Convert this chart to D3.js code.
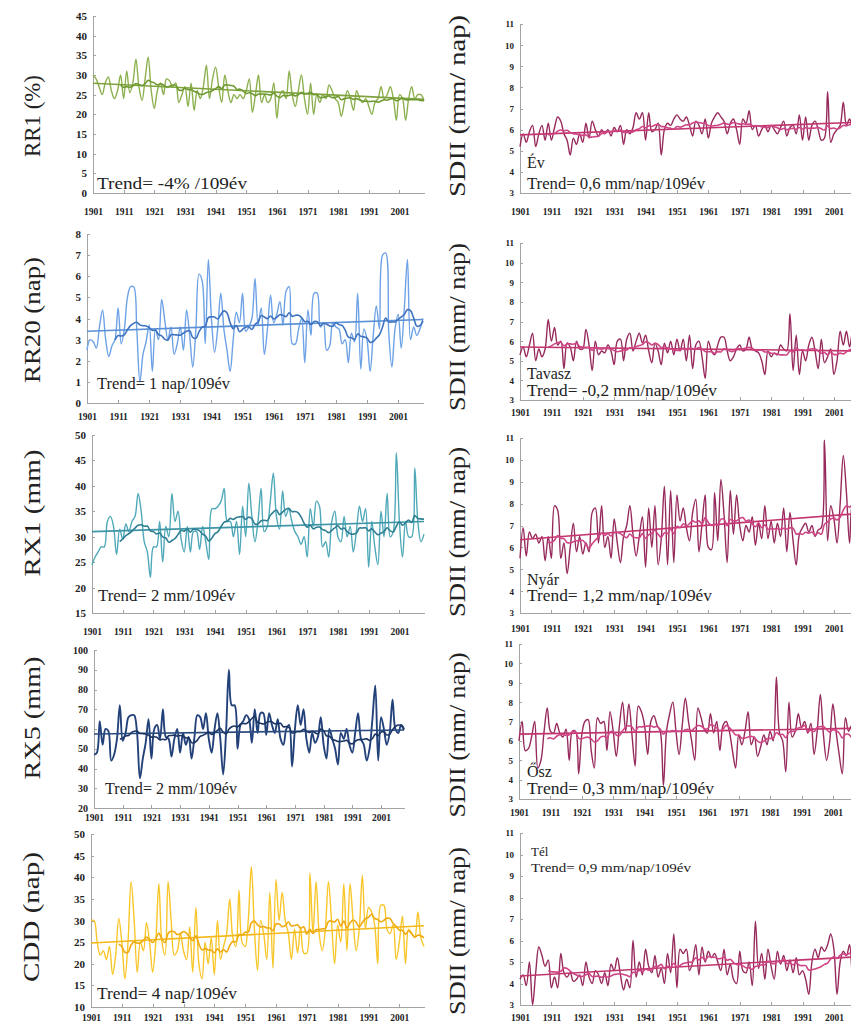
<!doctype html>
<html>
<head>
<meta charset="utf-8">
<script src="https://d3js.org/d3.v7.min.js"></script>
<style>
    body { margin: 0; background: #fff; }
    svg { display: block; }
    svg text { font-family: "Liberation Serif", "DejaVu Serif", "Times New Roman", serif; }
    .axis path, .axis line { stroke: #a3a3a3; stroke-width: 1; fill: none; shape-rendering: crispEdges; }
    .axis text { font-weight: bold; fill: #222; }
    .raw, .smooth, .trend { fill: none; }
</style>
</head>
<body>
<svg width="851" height="1027" font-family="Liberation Serif, serif"></svg>
<script>

// years on the x axis, and the decade labels
var years = d3.range(1901, 2010);
var decades = [1901, 1911, 1921, 1931, 1941, 1951, 1961, 1971, 1981, 1991, 2001];

// yearly values 1901..2009
var rr1 = [30,29,27,25,28,29.5,26,24,26,30, 24,31,25.5,28,34,27,23.5,29,34.5,26,
    21.5,26,28,25,29,28.5,27,28,23,25, 27,22,28,21,26,24,27,32.5,24,29,
    32,27,23,30,26,23,25,24,25,24, 26,29,20.5,25,30,23,25,23,24,28,
    19,25,26,24,31,25,22,26,30,24, 20,28,20,25,23,25,24,27.5,26,24,
    23,19.5,23,26,24,21,26,24,23,24, 22,20,23,24,27,24,25,27,24,18.5,
    25,24,18.5,24,27,24,25,25,23.5];

var rr20 = [2.5,3.0,2.9,2.6,3.6,4.4,3.0,2.2,2.7,3.0, 4.5,2.8,3.5,5.0,5.5,5.5,3.5,1.0,2.3,2.9,
    3.7,1.5,3.5,3.0,4.9,3.9,3.0,3.6,2.3,2.8, 3.6,2.5,4.4,3.2,1.7,3.5,6.1,5.8,2.8,6.8,
    4.0,2.4,3.5,5.2,3.5,2.5,1.5,3.0,4.3,3.8, 5.2,3.4,3.6,4.0,5.9,3.7,4.5,2.3,3.5,5.1,
    3.8,4.2,4.8,3.7,5.3,5.5,2.8,2.8,3.5,4.0, 1.9,4.4,3.2,5.2,5.2,3.6,3.8,2.5,2.7,3.8,
    3.6,3.5,2.8,3.0,1.9,3.3,2.9,5.2,1.6,3.5, 3.0,1.5,3.2,4.6,3.5,7.0,7.1,3.3,1.7,3.5,
    4.2,2.6,4.5,6.8,3.0,3.6,3.2,3.5,4.0];

var rx1 = [24.5,26,27,28,28,33,34,32,26.5,31.5, 29.5,32.5,31,33,34,38.5,35,29,27,22,
    28,28,33,25,32,30,38.5,33,35,29.5, 27,32,27,31,31,27.5,32,29,25.5,35.5,
    35.5,36,37,39.5,33,33,30,33,26.5,36, 30,40.5,34,29,33,39.5,31,32,37,42.5,
    34,31.5,39,34,35.5,33,31,30,28.5,30, 26,35.5,32,37,36,28,29,26,33,35,
    30,29,34,30,32,27,31,36,33,35.5, 24,33,28,24.5,35,30,38.5,30,31,46.5,
    33,26,33,30,30,43.5,33,29,30.5];

var rx5 = [47,48,64,52,60,59,44,47,55,72, 54,58,66,67,67,58,35,45,53,65,
    45,60,62,55,70,56,55,46,55,60, 48,58,52,56,45,56,67,66,60,68,
    55,48,60,68,55,37,58,90,72,72, 50,62,64,67,65,53,70,58,68,68,
    57,68,62,58,65,55,52,60,62,41, 60,72,62,70,55,48,58,53,56,66,
    52,45,60,55,50,42,58,55,60,52, 48,58,68,55,52,44,50,65,82,44,
    66,60,52,58,75,60,58,62,60];

var cdd = [30,30,25,22,23,21,24,17.5,22,30.5, 25,16.5,25,39,30,18,25,23,29.5,25,
    18,25,38.5,25,22,39,30,22,23,27, 23,21,28.5,18,33,20,16.5,25,20,26,
    17.5,30,21,24,27,35,26,24,37,25, 24,30,42.5,28,18.5,30,27,21,36.5,19,
    39.5,30,36.5,30,27,21,28,22.5,28.5,22.5, 22.5,41,27,39,27,23,28,39,30,20,
    29,25,38.5,23,38.5,30,23,28,40.5,28, 33,32,29,20,33.5,33.5,28,27,29,21,
    25,31,20,28,27,26,32,26,24];

var sdiiEv = [5.2,5.8,5.4,5.9,6.2,5.2,5.8,6.2,5.5,6.3, 5.5,6.1,6.6,6.4,5.8,5.5,4.8,5.6,5.3,5.8,
    5.4,6.3,5.6,6.4,6.0,5.7,6.0,5.8,6.0,5.7, 6.1,5.9,6.2,5.3,6.0,5.8,6.1,6.8,6.5,6.8,
    5.5,6.8,5.9,6.0,6.3,4.8,6.0,6.3,6.2,6.5, 6.7,6.5,6.4,6.6,6.2,5.7,6.4,6.2,5.8,6.5,
    5.6,6.3,6.6,6.8,6.6,6.4,5.8,6.3,6.5,6.0, 5.3,6.5,6.3,6.9,6.0,6.2,5.7,6.0,6.2,5.9,
    6.2,6.0,5.8,6.1,6.4,5.7,6.1,6.2,5.8,6.7, 5.5,6.6,5.5,6.2,6.4,6.0,5.5,5.6,7.8,5.4,
    5.8,6.0,6.2,7.3,6.2,6.5,6.1,6.4,6.3];

var sdiiTavasz = [5.3,5.7,5.2,5.8,6.4,5.0,5.6,5.2,5.6,7.1, 6.0,6.7,5.8,6.0,4.6,5.9,5.7,5.0,6.0,5.6,
    5.6,6.6,5.8,4.5,6.0,5.3,5.5,5.4,5.8,5.5, 4.8,6.0,6.1,5.0,6.1,6.4,5.5,6.0,6.4,5.9,
    6.3,5.5,4.9,5.9,5.5,4.8,5.9,5.4,6.0,5.3, 6.1,5.5,6.1,5.0,6.3,4.6,5.8,6.0,5.2,4.1,
    6.0,5.5,5.3,5.8,6.2,6.2,5.5,5.0,5.2,5.6, 5.8,5.5,5.6,6.2,5.6,5.5,5.4,5.0,4.3,5.5,
    5.2,5.4,5.3,5.8,5.6,5.5,7.4,4.5,6.3,4.3, 5.5,5.0,5.8,6.2,5.5,4.6,6.1,4.9,5.2,5.6,
    4.3,5.0,6.5,5.8,6.5,5.7,6.5,5.5,5.6];

var sdiiNyar = [5.5,6.9,5.6,6.7,6.4,6.6,6.2,6.5,5.4,6.5, 5.5,7.9,7.7,5.5,6.2,4.8,6.0,7.1,5.8,6.5,
    5.7,6.2,5.8,7.6,7.8,6.2,7.9,6.0,6.5,5.5, 7.3,6.2,5.3,6.5,7.0,7.9,6.6,5.6,6.5,7.4,
    5.1,7.8,6.0,7.9,5.2,6.4,8.8,5.2,8.6,5.3, 8.4,7.2,7.8,6.9,6.3,7.6,8.2,5.8,7.1,8.4,
    6.0,5.9,8.5,6.3,9.1,7.5,5.3,8.6,6.6,8.4, 7.0,6.3,7.0,6.7,7.4,6.1,7.1,6.4,7.9,6.4,
    7.2,6.2,7.1,6.5,7.8,5.8,7.6,6.3,5.2,6.6, 6.9,7.1,6.7,7.0,6.5,6.8,6.9,10.9,6.3,7.9,
    7.3,6.2,8.0,10.2,8.5,6.2,8.0,7.9,7.5];

var sdiiOsz = [6.0,7.0,5.5,5.6,6.2,7.0,4.6,5.0,6.5,7.7, 6.5,6.4,6.9,6.4,6.2,6.6,5.0,6.5,6.5,4.3,
    6.3,7.0,7.1,5.5,4.6,7.2,6.9,7.0,5.5,7.5, 6.5,5.2,6.8,8.0,6.5,7.9,6.3,4.7,7.8,7.5,
    6.8,5.3,7.0,7.3,6.8,6.5,3.7,6.5,7.4,8.0, 6.5,5.3,6.8,8.2,7.0,6.0,5.0,7.7,7.2,6.6,
    6.4,7.4,6.4,7.0,5.5,6.8,7.0,6.5,5.5,4.6, 6.3,5.8,6.5,7.5,5.8,6.2,5.2,5.7,6.3,5.8,
    6.5,6.0,9.3,6.4,6.0,4.4,8.0,6.2,6.5,7.4, 6.7,7.0,6.4,6.9,5.3,6.5,8.4,6.3,5.0,6.0,
    7.9,6.5,5.3,4.3,7.2,6.5,6.8,6.2,6.6];

var sdiiTel = [4.2,4.4,3.9,5.0,3.0,4.5,5.7,5.3,4.8,5.1, 3.8,4.3,3.8,5.4,4.5,4.3,4.5,4.1,4.2,4.4,
    3.9,5.0,4.3,4.0,4.6,4.4,4.0,4.5,3.9,4.9, 4.6,5.2,4.4,3.7,4.2,3.8,6.0,4.3,5.0,4.4,
    5.6,4.8,4.5,5.3,4.3,4.7,4.0,5.4,4.5,6.3, 3.8,5.6,5.4,5.6,4.6,5.0,5.8,4.4,5.7,5.0,
    5.5,5.2,5.4,5.0,4.6,5.6,4.4,4.9,4.2,4.0, 5.5,4.6,4.5,5.0,3.9,6.9,4.7,5.4,4.2,5.6,
    4.8,4.2,5.5,4.9,5.3,4.6,5.1,4.5,5.2,4.4, 4.6,4.2,3.5,5.0,5.6,5.2,5.7,5.5,5.8,6.3,
    5.6,3.5,5.0,5.5,5.3,5.8,4.3,5.2,5.1];

// linear trend, value at 1901 and at 2009
var trendRR1 = [27.9, 23.8];
var trendRR20 = [3.4, 3.95];
var trendRX1 = [31, 33];
var trendRX5 = [57.5, 59.5];
var trendCDD = [24.8, 28.8];
var trendEv = [5.75, 6.35];
var trendTavasz = [5.7, 5.5];
var trendNyar = [6.35, 7.55];
var trendOsz = [6.35, 6.65];
var trendTel = [4.35, 5.25];

// raw, moving average, trend
var green = ["#8db04f", "#6f9a32", "#7ea33e"],
    lblue = ["#6ea2e6", "#3f73bf", "#5a8fd6"],
    teal = ["#4fa9b9", "#2e7f92", "#3f95a8"],
    navy = ["#24427a", "#1b3563", "#2b4c80"],
    gold = ["#f9c62a", "#eeaa10", "#f3b81a"],
    pink = ["#962a5c", "#cf4585", "#c3356f"];

var panels = [
    {data: rr1, trend: trendRR1, dom: [0, 45], step: 5, x0: 93, x1: 424, yT: 16, yB: 193, labY: 212,
     col: green, lw: 1.4, ylab: "RR1 (%)", lx: 32, ly: 116, llen: 82, tfs: 11,
     texts: [{t: "Trend= -4% /109év", x: 97, y: 189, fs: 17, len: 150}]},
    {data: sdiiEv, trend: trendEv, dom: [3, 11], step: 1, x0: 520, x1: 859, yT: 24, yB: 193, labY: 212,
     col: pink, lw: 1.4, ylab: "SDII (mm/ nap)", lx: 457, ly: 106, llen: 182, tfs: 9,
     texts: [{t: "Év", x: 527, y: 168, fs: 16}, {t: "Trend= 0,6 mm/nap/109év", x: 527, y: 189, fs: 16, len: 178}]},
    {data: rr20, trend: trendRR20, dom: [0, 8], step: 1, x0: 87, x1: 423, yT: 234, yB: 403, labY: 417,
     col: lblue, lw: 1.4, ylab: "RR20 (nap)", lx: 32, ly: 320, llen: 126, tfs: 11,
     texts: [{t: "Trend= 1 nap/109év", x: 97, y: 389, fs: 17, len: 133}]},
    {data: sdiiTavasz, trend: trendTavasz, dom: [3, 11], step: 1, x0: 520, x1: 859, yT: 243, yB: 400, labY: 413,
     col: pink, lw: 1.4, ylab: "SDII (mm/ nap)", lx: 457, ly: 327, llen: 168, tfs: 9,
     texts: [{t: "Tavasz", x: 527, y: 379, fs: 16}, {t: "Trend= -0,2 mm/nap/109év", x: 527, y: 396, fs: 16, len: 190}]},
    {data: rx1, trend: trendRX1, dom: [15, 50], step: 5, x0: 92, x1: 424, yT: 435, yB: 613, labY: 632,
     col: teal, lw: 1.4, ylab: "RX1 (mm)", lx: 32, ly: 513, llen: 127, tfs: 11,
     texts: [{t: "Trend= 2 mm/109év", x: 98, y: 601, fs: 17, len: 137}]},
    {data: sdiiNyar, trend: trendNyar, dom: [3, 11], step: 1, x0: 520, x1: 859, yT: 438, yB: 613, labY: 629,
     col: pink, lw: 1.4, ylab: "SDII (mm/ nap)", lx: 457, ly: 532, llen: 170, tfs: 9,
     texts: [{t: "Nyár", x: 527, y: 585, fs: 16}, {t: "Trend= 1,2 mm/nap/109év", x: 527, y: 601, fs: 16, len: 185}]},
    {data: rx5, trend: trendRX5, dom: [20, 100], step: 10, x0: 94, x1: 404, yT: 650, yB: 808, labY: 818,
     col: navy, lw: 1.9, ylab: "RX5 (mm)", lx: 32, ly: 718, llen: 123, tfs: 10,
     texts: [{t: "Trend= 2 mm/109év", x: 105, y: 794, fs: 17, len: 132}]},
    {data: sdiiOsz, trend: trendOsz, dom: [3, 11], step: 1, x0: 519, x1: 858, yT: 644, yB: 799, labY: 813,
     col: pink, lw: 1.4, ylab: "SDII (mm/ nap)", lx: 457, ly: 735, llen: 165, tfs: 9,
     texts: [{t: "Ősz", x: 527, y: 777, fs: 16}, {t: "Trend= 0,3 mm/nap/109év", x: 527, y: 794, fs: 16, len: 187}]},
    {data: cdd, trend: trendCDD, dom: [10, 50], step: 5, x0: 91, x1: 424, yT: 834, yB: 1007, labY: 1018,
     col: gold, lw: 1.4, ylab: "CDD (nap)", lx: 31, ly: 917, llen: 130, tfs: 11,
     texts: [{t: "Trend= 4 nap/109év", x: 97, y: 999, fs: 17, len: 140}]},
    {data: sdiiTel, trend: trendTel, dom: [3, 11], step: 1, x0: 520, x1: 859, yT: 833, yB: 1005, labY: 1018,
     col: pink, lw: 1.4, ylab: "SDII (mm/ nap)", lx: 457, ly: 931, llen: 168, tfs: 9,
     texts: [{t: "Tél", x: 531, y: 856, fs: 13}, {t: "Trend= 0,9 mm/nap/109év", x: 531, y: 872, fs: 12, len: 160}]}
];

var svg = d3.select("svg");

panels.forEach(function(p) {
    var x = d3.scaleLinear().domain([1901, 2009]).range([p.x0, p.x1]),
        y = d3.scaleLinear().domain(p.dom).range([p.yB, p.yT]);

    var g = svg.append("g");

    // y axis, ticks pointing inward
    g.append("g")
     .attr("class", "axis")
     .attr("transform", "translate(" + p.x0 + ",0)")
     .call(d3.axisLeft(y)
        .tickValues(d3.range(p.dom[0], p.dom[1] + 0.001, p.step))
        .tickSizeInner(-3).tickSizeOuter(0).tickPadding(6))
     .attr("font-family", null)
     .selectAll("text").attr("font-size", p.tfs);

    // x axis
    g.append("g")
     .attr("class", "axis")
     .attr("transform", "translate(0," + p.yB + ")")
     .call(d3.axisBottom(x)
        .tickValues(decades).tickFormat(d3.format("d"))
        .tickSizeInner(-3).tickSizeOuter(0).tickPadding(p.labY - p.yB - 4))
     .attr("font-family", null)
     .selectAll("text").attr("font-size", 9.5);

    var raw = d3.line()
        .x(function(d, i) { return x(years[i]); })
        .y(function(d) { return y(d); })
        .curve(d3.curveCatmullRom);

    g.append("path")
     .attr("class", "raw")
     .attr("stroke", p.col[0])
     .attr("stroke-width", p.lw)
     .attr("d", raw(p.data));

    // linear trend
    g.append("line")
     .attr("class", "trend")
     .attr("x1", x(1901)).attr("y1", y(p.trend[0]))
     .attr("x2", x(2009)).attr("y2", y(p.trend[1]))
     .attr("stroke", p.col[2])
     .attr("stroke-width", 1.6);

    // 10 year moving average
    var ma = [];
    for (var i = 9; i < p.data.length; i++) {
        ma.push([years[i], d3.mean(p.data.slice(i - 9, i + 1))]);
    }
    g.append("path")
     .attr("class", "smooth")
     .attr("stroke", p.col[1])
     .attr("stroke-width", 1.6)
     .attr("d", d3.line()
        .x(function(d) { return x(d[0]); })
        .y(function(d) { return y(d[1]); })
        .curve(d3.curveCatmullRom)(ma));

    p.texts.forEach(function(t) {
        var tx = g.append("text")
         .attr("x", t.x).attr("y", t.y)
         .attr("font-size", t.fs)
         .attr("fill", "#222")
         .text(t.t);
        if (t.len) tx.attr("textLength", t.len).attr("lengthAdjust", "spacingAndGlyphs");
    });

    svg.append("text")
       .attr("transform", "translate(" + p.lx + "," + p.ly + ") rotate(-90)")
       .attr("text-anchor", "middle")
       .attr("dy", "0.35em")
       .attr("font-size", 24)
       .attr("fill", "#222")
       .attr("textLength", p.llen)
       .attr("lengthAdjust", "spacingAndGlyphs")
       .text(p.ylab);
});

</script>
</body>
</html>
